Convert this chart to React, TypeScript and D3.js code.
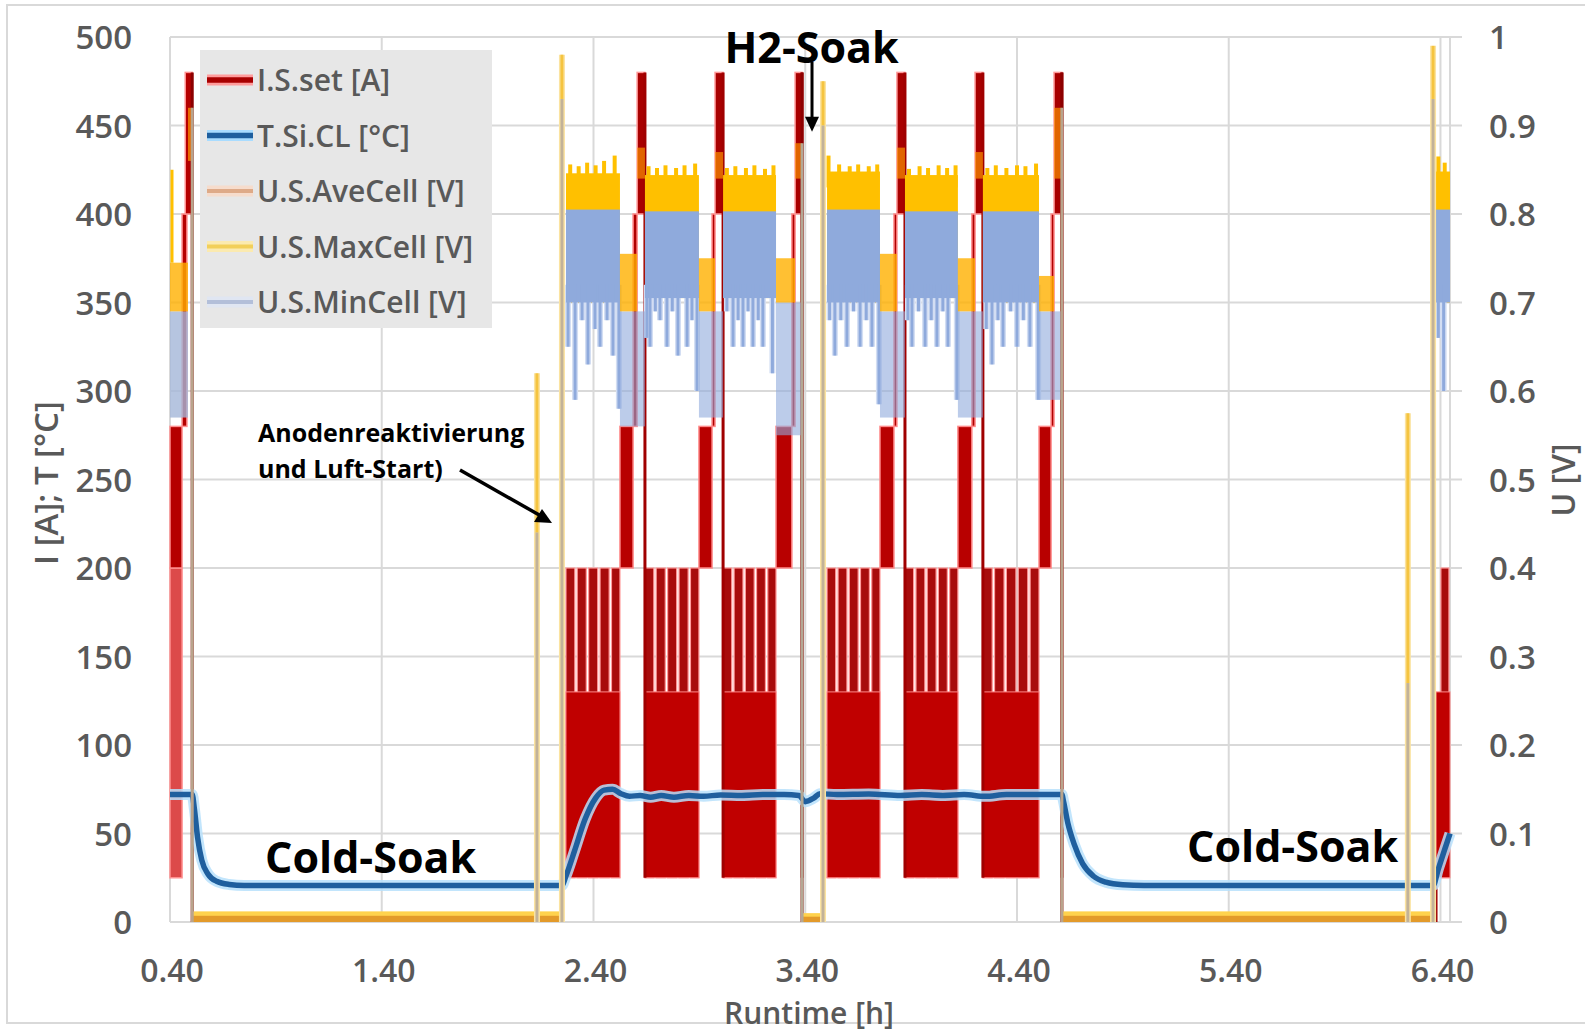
import * as d3 from 'd3'

// ---------- axes ----------
const xTicks = [0.4, 1.4, 2.4, 3.4, 4.4, 5.4, 6.4]
const iTicks = [0, 50, 100, 150, 200, 250, 300, 350, 400, 450, 500]
const uTicks = [0, 0.1, 0.2, 0.3, 0.4, 0.5, 0.6, 0.7, 0.8, 0.9, 1]
const seriesNames = ['I.S.set [A]', 'T.Si.CL [°C]', 'U.S.AveCell [V]', 'U.S.MaxCell [V]', 'U.S.MinCell [V]']

// ---------- I.S.set [A] ----------
// pulse low, pulse high, stripe, step 1, step 2, peak
const currentLevels = [25, 130, 200, 280, 400, 480]
// load cycles [h]
const blockStart = [2.27, 2.643, 3.012, 3.503, 3.871, 4.239, 6.379]
const blockEnd = [2.525, 2.898, 3.262, 3.753, 4.121, 4.504, 6.445]
const step1End = [2.587, 2.96, 3.337, 3.819, 4.187, 4.561]
const step2End = [2.606, 2.974, 3.352, 3.833, 4.202, 4.575]
const peakEnd = [2.643, 3.012, 3.385, 3.871, 4.239, 4.612]
// 200 A pulses inside the load blocks [t0, t1]
const stripes: [number, number][] = [
  [2.27, 2.312], [2.323, 2.366], [2.377, 2.42], [2.431, 2.474], [2.485, 2.525],
  [2.643, 2.685], [2.696, 2.739], [2.75, 2.793], [2.804, 2.847], [2.858, 2.898],
  [3.012, 3.053], [3.064, 3.106], [3.117, 3.159], [3.17, 3.212], [3.223, 3.262],
  [3.503, 3.544], [3.555, 3.597], [3.608, 3.65], [3.661, 3.703], [3.714, 3.753],
  [3.871, 3.912], [3.923, 3.965], [3.976, 4.018], [4.029, 4.071], [4.082, 4.121],
  [4.239, 4.283], [4.294, 4.339], [4.35, 4.395], [4.406, 4.451], [4.462, 4.504],
  [6.402, 6.44],
]
// start-up before the first cold soak [t0, t1, I low, I high]
const startupCurrent: [number, number, number, number][] = [
  [0.4, 0.457, 25, 200],
  [0.4, 0.457, 200, 280],
  [0.457, 0.48, 280, 400],
  [0.472, 0.505, 400, 480],
]
const currentOff = [0.505, 3.385, 4.612]

// ---------- T.Si.CL [°C] ----------
const temperature: [number, number][] = [
  [0.4, 72], [0.505, 72], [0.515, 64], [0.53, 48], [0.55, 35], [0.58, 27], [0.62, 23],
  [0.68, 21.2], [0.75, 20.6], [2.25, 20.6], [2.27, 26], [2.31, 40], [2.36, 58], [2.41, 70],
  [2.45, 74.5], [2.49, 75], [2.53, 72.5], [2.57, 71], [2.62, 71.5], [2.67, 70.5], [2.72, 71.5],
  [2.78, 70.5], [2.85, 71.5], [2.92, 71], [3.0, 71.8], [3.1, 71.5], [3.2, 72], [3.3, 72],
  [3.37, 71.5], [3.4, 68], [3.44, 70], [3.47, 72.5], [3.55, 72], [3.7, 72.3], [3.85, 71.5],
  [3.95, 72], [4.05, 71.5], [4.15, 72], [4.25, 71], [4.35, 72], [4.5, 72], [4.612, 72],
  [4.62, 68], [4.64, 56], [4.67, 44], [4.71, 33], [4.76, 26], [4.82, 22.5], [4.9, 21],
  [5.0, 20.6], [6.365, 20.6], [6.39, 30], [6.42, 41], [6.445, 50],
]

// ---------- cell voltages [V] ----------
const soakStart = [0.505, 3.385, 4.612]
const soakEnd = [2.251, 3.484, 6.365]
const soakMaxCell = [0.012, 0.01, 0.012]
const soakAveCell = [0.007, 0.006, 0.007]
// start-up / shut-off spikes
const spikeTimes = [2.133, 2.251, 3.484, 6.246, 6.365]
const spikeAveCell = [0.44, 0.93, 0.9, 0.27, 0.93]
const spikeMaxCell = [0.62, 0.98, 0.95, 0.575, 0.99]
// load blocks
const blockMaxTop = [0.846, 0.844, 0.844, 0.848, 0.844, 0.844, 0.848]
const blockMinTop = [0.805, 0.803, 0.803, 0.805, 0.803, 0.803, 0.805]
const blockMinLow = [0.7, 0.705, 0.705, 0.7, 0.705, 0.7, 0.7]
const maxCellRipples: [number, number][] = [
  [2.29, 0.856], [2.33, 0.854], [2.37, 0.858], [2.41, 0.855], [2.45, 0.86], [2.5, 0.866],
  [2.66, 0.854], [2.7, 0.852], [2.74, 0.855], [2.79, 0.852], [2.83, 0.855], [2.88, 0.857],
  [3.03, 0.852], [3.07, 0.854], [3.12, 0.852], [3.16, 0.855], [3.21, 0.851], [3.25, 0.855],
  [3.51, 0.866], [3.56, 0.856], [3.61, 0.854], [3.65, 0.856], [3.7, 0.854], [3.74, 0.856],
  [3.89, 0.851], [3.94, 0.854], [3.98, 0.852], [4.03, 0.855], [4.07, 0.852], [4.11, 0.855],
  [4.26, 0.852], [4.3, 0.855], [4.35, 0.852], [4.4, 0.855], [4.44, 0.854], [4.49, 0.857],
  [6.39, 0.865], [6.42, 0.858],
]
const minCellDips: [number, number][] = [
  [2.28, 0.65], [2.313, 0.59], [2.346, 0.68], [2.374, 0.63], [2.407, 0.67], [2.431, 0.65], [2.464, 0.68], [2.492, 0.64], [2.52, 0.58],
  [2.652, 0.66], [2.667, 0.65], [2.692, 0.69], [2.714, 0.68], [2.747, 0.65], [2.772, 0.69], [2.799, 0.64], [2.842, 0.65], [2.865, 0.68], [2.889, 0.6],
  [3.03, 0.69], [3.059, 0.65], [3.083, 0.68], [3.106, 0.65], [3.13, 0.69], [3.153, 0.65], [3.178, 0.68], [3.2, 0.65], [3.245, 0.62],
  [3.515, 0.68], [3.54, 0.64], [3.568, 0.68], [3.597, 0.65], [3.628, 0.69], [3.659, 0.65], [3.688, 0.68], [3.715, 0.65], [3.748, 0.585],
  [3.885, 0.68], [3.904, 0.65], [3.935, 0.69], [3.966, 0.65], [3.995, 0.68], [4.022, 0.65], [4.05, 0.69], [4.074, 0.65], [4.116, 0.59],
  [4.255, 0.67], [4.282, 0.63], [4.31, 0.68], [4.334, 0.65], [4.37, 0.69], [4.4, 0.65], [4.43, 0.68], [4.461, 0.65], [4.5, 0.59],
  [6.39, 0.66], [6.415, 0.6],
]
// ramp 280 → 480 A at the end of each cycle
const stepMaxHigh = [0.755, 0.75, 0.75, 0.755, 0.75, 0.73]
const stepMaxLow = [0.69, 0.69, 0.7, 0.69, 0.69, 0.69]
const stepMinLow = [0.56, 0.57, 0.55, 0.57, 0.57, 0.59]
const peakMaxCell = [0.875, 0.87, 0.88, 0.875, 0.87, 0.92]
// start-up window 0.40–0.505 h
const startupSpan = [0.4, 0.485, 0.505]
const startupMaxCell = [0.69, 0.745, 0.85, 0.92]
const startupMinLow = 0.57

// ---------- layout ----------
const W = 1585
const H = 1032
const FONT = "'Open Sans', 'Liberation Sans', Arial, sans-serif"
const GRID = '#d9d9d9'
const LABEL = '#595959'

const x = d3.scaleLinear().domain([0.4, 6.445]).range([170, 1450])
const yI = d3.scaleLinear().domain([0, 500]).range([922, 37])
const yU = d3.scaleLinear().domain([0, 1]).range([922, 37])

const rI = (t0: number, t1: number, v0: number, v1: number) => ({
  x: x(t0), y: yI(v1), width: Math.max(1, x(t1) - x(t0)), height: yI(v0) - yI(v1),
})
const rU = (t0: number, t1: number, v0: number, v1: number) => ({
  x: x(t0), y: yU(v1), width: Math.max(1, x(t1) - x(t0)), height: yU(v0) - yU(v1),
})

const legendStyles = [
  { color: '#a80000', glow: '#ff9c9c' },
  { color: '#1f5f9e', glow: '#a9dcff' },
  { color: '#deaa88', glow: '#f6dccc' },
  { color: '#f2cf5a', glow: '#fbeab0' },
  { color: '#b3bfd9', glow: '#e0e6f2' },
]

const tempLine = d3.line<[number, number]>()
  .x(d => x(d[0]))
  .y(d => yI(d[1]))
  .curve(d3.curveMonotoneX)

export default function App() {
  const [L0, L1, L2, L3, L4, L5] = currentLevels
  const tempD = tempLine(temperature) ?? ''

  return (
    <svg width={W} height={H} style={{ position: 'absolute', left: 0, top: 0, background: '#fff' }} fontFamily={FONT}>
      <rect x={7} y={5} width={W} height={1018} fill="#fff" stroke={GRID} strokeWidth={2} />

      {/* gridlines */}
      {iTicks.map(v => (
        <line key={'h' + v} x1={170} x2={1462} y1={yI(v)} y2={yI(v)} stroke={GRID} strokeWidth={2} />
      ))}
      {xTicks.map(v => (
        <line key={'v' + v} x1={x(v)} x2={x(v)} y1={yI(500)} y2={yI(0)} stroke={GRID} strokeWidth={2} />
      ))}
      <line x1={x(6.445)} x2={x(6.445)} y1={yI(500)} y2={yI(0)} stroke={GRID} strokeWidth={2} />

      {/* I.S.set */}
      <g>
        {startupCurrent.map(([t0, t1, v0, v1], i) => (
          <rect key={'su' + i} {...rI(t0, t1, v0, v1)} fill={i === 0 ? '#dc4a4a' : '#b50000'}
            stroke="#ff9090" strokeWidth={1.5} />
        ))}
        {stripes.map(([t0, t1], i) => (
          <rect key={'st' + i} {...rI(t0, t1, L0, L2)} fill="#a80c0c" stroke="#ff9a9a" strokeWidth={1.2} />
        ))}
        {blockStart.map((t, i) => (
          <rect key={'bl' + i} {...rI(t, blockEnd[i], L0, L1)} fill="#c00000" stroke="#ff8a8a" strokeWidth={1} />
        ))}
        {step1End.map((t, i) => (
          <g key={'ramp' + i}>
            <rect {...rI(blockEnd[i], t, L2, L3)} fill="#b80000" stroke="#ff8a8a" strokeWidth={1.5} />
            <rect {...rI(t, step2End[i], L3, L4)} fill="#b00000" stroke="#ff8a8a" strokeWidth={1.5} />
            <rect {...rI(step2End[i], peakEnd[i], L4, L5)} fill="#a80000" stroke="#ff9a9a" strokeWidth={1.5} />
            <line x1={x(peakEnd[i])} x2={x(peakEnd[i])} y1={yI(L5)} y2={yI(L0)} stroke="#a00000" strokeWidth={3} />
          </g>
        ))}
        {currentOff.map((t, i) => (
          <line key={'off' + i} x1={x(t)} x2={x(t)} y1={yI(L5)} y2={yI(0)} stroke="#8c0000" strokeWidth={3} />
        ))}
        <line x1={x(blockStart[6])} x2={x(blockStart[6])} y1={yI(0)} y2={yI(L0)} stroke="#a00000" strokeWidth={3} />
      </g>

      {/* T.Si.CL */}
      <path d={tempD} fill="none" stroke="#b7e1fb" strokeWidth={11} strokeLinejoin="round" opacity={0.85} />
      <path d={tempD} fill="none" stroke="#1f5f9e" strokeWidth={5.5} strokeLinejoin="round" />

      {/* cold / H2 soak voltages */}
      {soakStart.map((t, i) => (
        <g key={'soak' + i}>
          <rect {...rU(t, soakEnd[i], 0, soakMaxCell[i])} fill="#ffd24d" />
          <rect {...rU(t, soakEnd[i], 0, soakAveCell[i])} fill="#e39a2a" />
        </g>
      ))}

      {/* start-up window */}
      <rect {...rU(startupSpan[0], startupSpan[1], startupMinLow, startupMaxCell[0])} fill="#a4b6d8" opacity={0.8} />
      <rect {...rU(startupSpan[0], startupSpan[1], startupMaxCell[0], startupMaxCell[1])} fill="#ffb000" opacity={0.8} />
      <line x1={x(startupSpan[0]) + 2} x2={x(startupSpan[0]) + 2} y1={yU(startupMaxCell[1])} y2={yU(startupMaxCell[2])}
        stroke="#ffc000" strokeWidth={3} />
      <rect {...rU(startupSpan[1], startupSpan[2], 0.86, startupMaxCell[3])} fill="#ff9a00" opacity={0.7} />
      <line x1={x(startupSpan[2])} x2={x(startupSpan[2])} y1={yU(startupMaxCell[3])} y2={yU(0)}
        stroke="#b9a48c" strokeWidth={3} />

      {/* load blocks */}
      {maxCellRipples.map(([t, u], i) => (
        <line key={'rp' + i} x1={x(t)} x2={x(t)} y1={yU(0.83)} y2={yU(u)} stroke="#ffc000" strokeWidth={4} />
      ))}
      {blockStart.map((t, i) => (
        <rect key={'ub' + i} {...rU(t, blockEnd[i], blockMinLow[i], blockMaxTop[i])} fill="#ffc000" />
      ))}
      {minCellDips.map(([t, u], i) => (
        <line key={'dg' + i} x1={x(t)} x2={x(t)} y1={yU(0.72)} y2={yU(u)} stroke="#d3def3" strokeWidth={6} />
      ))}
      {blockStart.map((t, i) => (
        <rect key={'mb' + i} {...rU(t, blockEnd[i], blockMinLow[i], blockMinTop[i])} fill="#8faadc" />
      ))}
      {minCellDips.map(([t, u], i) => (
        <line key={'dp' + i} x1={x(t)} x2={x(t)} y1={yU(0.72)} y2={yU(u)} stroke="#8faadc" strokeWidth={3} />
      ))}

      {/* ramp phases */}
      {step1End.map((_, i) => (
        <g key={'ur' + i}>
          <rect {...rU(blockEnd[i], peakEnd[i], stepMinLow[i], stepMaxLow[i])} fill="#8faadc" opacity={0.6} />
          <rect {...rU(blockEnd[i], step2End[i], stepMaxLow[i], stepMaxHigh[i])} fill="#ffb000" opacity={0.8} />
          <rect {...rU(step2End[i], peakEnd[i], 0.84, peakMaxCell[i])} fill="#ff9a00" opacity={0.65} />
        </g>
      ))}
      <line x1={x(peakEnd[2])} x2={x(peakEnd[2])} y1={yU(peakMaxCell[2])} y2={yU(0)} stroke="#b4a894" strokeWidth={3} />
      <line x1={x(peakEnd[5])} x2={x(peakEnd[5])} y1={yU(peakMaxCell[5])} y2={yU(0)} stroke="#b9a48c" strokeWidth={3} />

      {/* start-up spikes */}
      {spikeTimes.map((t, i) => (
        <g key={'sp' + i}>
          <line x1={x(t)} x2={x(t)} y1={yU(0)} y2={yU(spikeMaxCell[i])} stroke="#fbe3a0" strokeWidth={6} />
          <line x1={x(t)} x2={x(t)} y1={yU(spikeAveCell[i])} y2={yU(spikeMaxCell[i])} stroke="#f5c440" strokeWidth={3} />
          <line x1={x(t)} x2={x(t)} y1={yU(0)} y2={yU(spikeAveCell[i])} stroke="#c2b299" strokeWidth={3} />
        </g>
      ))}

      {/* annotations */}
      <text x={x(3.43)} y={63} textAnchor="middle" fontSize={43} fontWeight={700} fill="#000">H2-Soak</text>
      <line x1={x(3.432)} x2={x(3.432)} y1={62} y2={yU(0.905)} stroke="#000" strokeWidth={3} />
      <path d={`M${x(3.432) - 7},${yU(0.91)} L${x(3.432) + 7},${yU(0.91)} L${x(3.432)},${yU(0.893)} Z`} fill="#000" />

      <text x={265} y={873} fontSize={43} fontWeight={700} fill="#000">Cold-Soak</text>
      <text x={1187} y={862} fontSize={43} fontWeight={700} fill="#000">Cold-Soak</text>

      <text x={258} y={442} fontSize={25} fontWeight={700} fill="#000">Anodenreaktivierung</text>
      <text x={258} y={478} fontSize={25} fontWeight={700} fill="#000">und Luft-Start)</text>
      <line x1={460} y1={470} x2={541} y2={516} stroke="#000" strokeWidth={3.5} />
      <path d="M552,523 L534,522 L542,509 Z" fill="#000" />

      {/* legend */}
      <rect x={200} y={50} width={292} height={278} fill="#e7e7e7" />
      {seriesNames.map((name, i) => {
        const cy = 80 + i * 55.5
        const s = legendStyles[i]
        return (
          <g key={name}>
            <line x1={207} x2={253} y1={cy} y2={cy} stroke={s.glow} strokeWidth={11} />
            <line x1={207} x2={253} y1={cy} y2={cy} stroke={s.color} strokeWidth={i < 2 ? 5.5 : 4} />
            <text x={257} y={cy + 11} fontSize={30} fontWeight={600} fill={LABEL}>{name}</text>
          </g>
        )
      })}

      {/* tick labels */}
      {iTicks.map(v => (
        <text key={'il' + v} x={132} y={yI(v) + 12} textAnchor="end" fontSize={33} fontWeight={600} fill={LABEL}>{v}</text>
      ))}
      {uTicks.map(v => (
        <text key={'ul' + v} x={1489} y={yU(v) + 12} fontSize={33} fontWeight={600} fill={LABEL}>{String(v)}</text>
      ))}
      {xTicks.map(v => (
        <text key={'xl' + v} x={x(v) + 2} y={982} textAnchor="middle" fontSize={32} fontWeight={600} fill={LABEL}>{v.toFixed(2)}</text>
      ))}

      {/* axis titles */}
      <text transform="translate(58,483) rotate(-90)" textAnchor="middle" fontSize={33} fontWeight={600} fill={LABEL}>I [A]; T [°C]</text>
      <text transform="translate(1575,480) rotate(-90)" textAnchor="middle" fontSize={32} fontWeight={600} fill={LABEL}>U [V]</text>
      <text x={809} y={1024} textAnchor="middle" fontSize={30} fontWeight={600} fill={LABEL}>Runtime [h]</text>
    </svg>
  )
}
